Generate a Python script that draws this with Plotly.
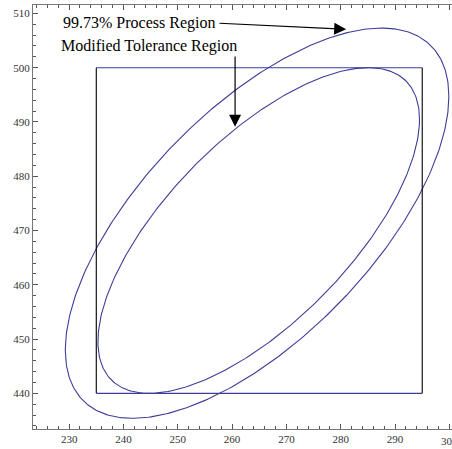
import numpy as np
import plotly.graph_objects as go

# Ellipse parameters: center x, center y, half-width, half-height, phase (deg)
ellipse_names = ["99.73% Process Region", "Modified Tolerance Region"]
ellipse_cx = [264.6, 264.9]
ellipse_cy = [471.35, 470.0]
ellipse_halfw = [35.3, 29.6]
ellipse_halfh = [35.95, 30.0]
ellipse_phase = [49.5, 47.0]

# Tolerance box
box_x = [235, 295]
box_y = [440, 500]

x_ticks = [230, 240, 250, 260, 270, 280, 290, 300]
y_ticks = [440, 450, 460, 470, 480, 490, 500, 510]

BLUE = "#3d3d99"
fig = go.Figure()

t = np.linspace(0, 2 * np.pi, 400)
for cx, cy, a, b, ph in zip(ellipse_cx, ellipse_cy, ellipse_halfw, ellipse_halfh, ellipse_phase):
    d = np.deg2rad(ph)
    fig.add_trace(go.Scatter(x=cx + a * np.cos(t), y=cy + b * np.cos(t - d), mode="lines",
                             line=dict(color=BLUE, width=1.1), hoverinfo="skip", showlegend=False))

# box: top/bottom blue, sides black
fig.add_trace(go.Scatter(x=[box_x[0], box_x[1]], y=[box_y[1], box_y[1]], mode="lines",
                         line=dict(color=BLUE, width=1.1), showlegend=False))
fig.add_trace(go.Scatter(x=[box_x[0], box_x[1]], y=[box_y[0], box_y[0]], mode="lines",
                         line=dict(color=BLUE, width=1.1), showlegend=False))
fig.add_trace(go.Scatter(x=[box_x[0], box_x[0]], y=[box_y[0], box_y[1]], mode="lines",
                         line=dict(color="black", width=1.1), showlegend=False))
fig.add_trace(go.Scatter(x=[box_x[1], box_x[1]], y=[box_y[0], box_y[1]], mode="lines",
                         line=dict(color="black", width=1.1), showlegend=False))

font_txt = dict(family="Liberation Serif, Times New Roman, serif", size=16, color="black")
# labels
fig.add_annotation(x=257.17, y=508.2, xref="x", yref="y", text=ellipse_names[0], showarrow=False,
                   xanchor="right", yanchor="middle", font=font_txt)
fig.add_annotation(x=244.72, y=504.0, xref="x", yref="y", text=ellipse_names[1], showarrow=False,
                   xanchor="center", yanchor="middle", font=font_txt)
# arrows
fig.add_annotation(x=281.0, y=507.07, ax=257.4, ay=508.2, xref="x", yref="y", axref="x", ayref="y",
                   text="", showarrow=True, arrowhead=2, arrowsize=2, arrowwidth=1.2, arrowcolor="black")
fig.add_annotation(x=260.55, y=489.13, ax=260.55, ay=502.34, xref="x", yref="y", axref="x", ayref="y",
                   text="", showarrow=True, arrowhead=2, arrowsize=2, arrowwidth=1.2, arrowcolor="black")

tickfont = dict(family="Liberation Serif, Times New Roman, serif", size=11, color="#333333")
# the last x tick label sits at the page edge (partly cut off in the reference)
fig.add_annotation(x=x_ticks[-1], y=0, xref="x", yref="paper", yshift=-4, text=str(x_ticks[-1]),
                   showarrow=False, xanchor="center", yanchor="top", font=tickfont)
fig.update_xaxes(range=[223.35, 300.48], tickvals=x_ticks, ticks="inside", ticklen=5, tickcolor="#555",
                 showline=True, linecolor="#777", linewidth=1, mirror="allticks", showgrid=False,
                 zeroline=False, tickfont=tickfont,
                 minor=dict(dtick=2, tick0=230, ticks="inside", ticklen=3, tickcolor="#555"))
fig.update_yaxes(range=[433.43, 511.55], tickvals=y_ticks, ticks="inside", ticklen=5, tickcolor="#555",
                 showline=True, linecolor="#777", linewidth=1, mirror=False, showgrid=False,
                 zeroline=False, tickfont=tickfont,
                 minor=dict(dtick=2, tick0=440, ticks="inside", ticklen=3, tickcolor="#555"))
fig.update_layout(width=452, height=449, margin=dict(l=33, r=0, t=5, b=20, autoexpand=False),
                  plot_bgcolor="white", paper_bgcolor="white", showlegend=False)
# remove the page's default 8px body margin so the figure sits at the top-left corner
fig.write_html("out.html", config={"displayModeBar": False},
               post_script="document.body.style.margin='0px';")
